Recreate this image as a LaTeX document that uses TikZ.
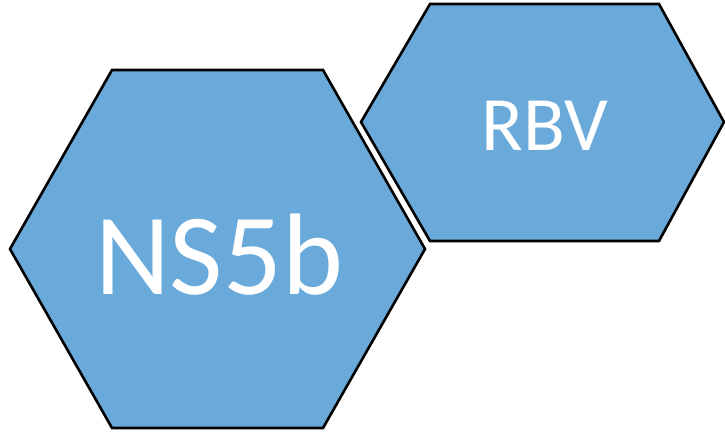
\documentclass[tikz,border=0pt]{standalone}
\usepackage{fontspec}
\setmainfont{Carlito}
\definecolor{hexblue}{RGB}{106,170,219}
\tikzset{
  hexagon/.style={fill=hexblue, draw=black, line width=2.6pt, line join=miter},
  label/.style={text=white, inner sep=0pt}
}
\begin{document}
\begin{tikzpicture}[x=1pt,y=-1pt]
        \useasboundingbox (0,0) rectangle (725,434);
        % large hexagon
        \draw[hexagon] (10,249) -- (112,70) -- (323,70) -- (425,249)
          -- (323,428) -- (112,428) -- cycle;
        % small hexagon
        \draw[hexagon] (361,122) -- (430,4) -- (659,4) -- (724,122)
          -- (659,241) -- (430,241) -- cycle;
        \node[label] at (219,255) (ns5b) {\fontsize{116}{116}\selectfont NS5b};
        \node[label] at (545,126) (rbv) {\fontsize{77}{77}\selectfont RBV};
      \end{tikzpicture}
\end{document}
